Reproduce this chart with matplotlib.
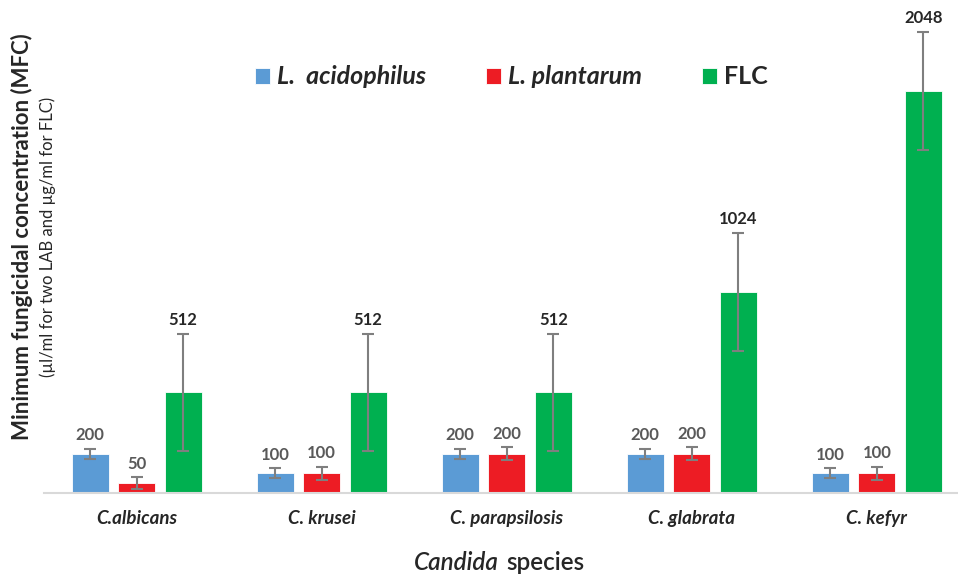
import matplotlib
matplotlib.use('Agg')
import matplotlib.pyplot as plt
import numpy as np

# data
species = ['C.albicans', 'C. krusei', 'C. parapsilosis', 'C. glabrata', 'C. kefyr']
series_names = ['L.  acidophilus', 'L. plantarum', 'FLC']
acidophilus = [200, 100, 200, 200, 100]
plantarum = [50, 100, 200, 200, 100]
flc = [512, 512, 512, 1024, 2048]
acidophilus_err = [25, 25, 25, 25, 25]
plantarum_err = [30, 33, 33, 33, 33]
flc_err = [300, 300, 300, 300, 300]

colors = ['#5B9BD5', '#ED1C24', '#00B050']
label_colors = ['#595959', '#595959', '#262626']
err_color = '#7f7f7f'

plt.rcParams['font.family'] = ['Lato', 'DejaVu Sans']

W, H = 958, 576
fig = plt.figure(figsize=(W / 100, H / 100), dpi=100)
# axes: left at 44px, baseline at 493px, top of figure
ax = fig.add_axes([44 / W, (H - 493) / H, (W - 44) / W, 493 / H])

x = np.arange(len(species))
width = 0.2
offset = 0.2514

bars = []
for i, (vals, errs) in enumerate([(acidophilus, acidophilus_err),
                                  (plantarum, plantarum_err),
                                  (flc, flc_err)]):
    pos = x + (i - 1) * offset
    b = ax.bar(pos, vals, width, color=colors[i], label=series_names[i],
               edgecolor='white', linewidth=0.6, zorder=2)
    ax.errorbar(pos, vals, yerr=errs, fmt='none', ecolor=err_color,
                elinewidth=1.5, capsize=4, capthick=1.5, zorder=3)
    bars.append(b)
    for p, v, e in zip(pos, vals, errs):
        ax.annotate(str(v), (p, v + e), xytext=(0, 4), textcoords='offset points',
                    ha='center', va='bottom', fontsize=12, fontweight='bold',
                    color=label_colors[i])

ax.set_xlim(-0.5, 4.438)
ax.set_ylim(0, 2511)
ax.set_yticks([])
for s in ['top', 'right', 'left']:
    ax.spines[s].set_visible(False)
ax.spines['bottom'].set_color('#d9d9d9')
ax.spines['bottom'].set_linewidth(1.5)
ax.set_xticks(x)
ax.set_xticklabels(species, fontsize=13.5, fontweight='bold', fontstyle='italic',
                   color='#262626')
ax.tick_params(axis='x', length=0, pad=12)

# axis titles
fig.text(22 / W, 1 - 237 / H, 'Minimum fungicidal concentration (MFC)', rotation=90,
         ha='center', va='center', fontsize=16, fontweight='bold', color='#262626')
fig.text(48 / W, 1 - 237 / H, '(\u00b5l/ml for two LAB and \u00b5g/ml for FLC)', rotation=90,
         ha='center', va='center', fontsize=12, color='#262626')
fig.text(499 / W, 1 - 562 / H, 'Candida', ha='right', va='center', fontsize=17.5,
         fontstyle='italic', fontweight='semibold', color='#262626')
fig.text(506 / W, 1 - 562 / H, 'species', ha='left', va='center', fontsize=17.5,
         fontweight='semibold', color='#262626')

leg = ax.legend(handles=bars, loc='center', bbox_to_anchor=(511 / W, 1 - 77 / H),
                bbox_transform=fig.transFigure, ncol=3, frameon=False,
                fontsize=18, handlelength=0.6, handleheight=0.6,
                handletextpad=0.28, columnspacing=2.4, borderpad=0)
for i, t in enumerate(leg.get_texts()):
    t.set_fontweight('bold')
    t.set_color('#262626')
    if i < 2:
        t.set_fontstyle('italic')

fig.savefig('out.png', dpi=100)
